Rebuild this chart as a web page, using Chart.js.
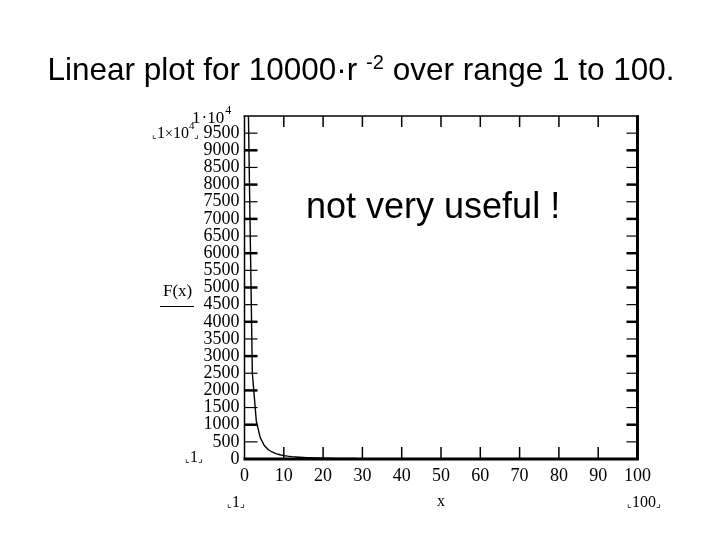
<!DOCTYPE html>
<html>
<head>
<meta charset="utf-8">
<script src="https://cdn.jsdelivr.net/npm/chart.js@4.4.1/dist/chart.umd.min.js"></script>
<style>
  body { margin: 0; background: #fff; }
  #wrap { width: 720px; height: 540px; }
</style>
</head>
<body>
<div id="wrap"><canvas id="plot" width="720" height="540"></canvas></div>
<script>
// x = 1..100, F(x)
const xs = [
  1, 2, 3, 4, 5, 6, 7, 8, 9, 10,
  11, 12, 13, 14, 15, 16, 17, 18, 19, 20,
  21, 22, 23, 24, 25, 26, 27, 28, 29, 30,
  31, 32, 33, 34, 35, 36, 37, 38, 39, 40,
  41, 42, 43, 44, 45, 46, 47, 48, 49, 50,
  51, 52, 53, 54, 55, 56, 57, 58, 59, 60,
  61, 62, 63, 64, 65, 66, 67, 68, 69, 70,
  71, 72, 73, 74, 75, 76, 77, 78, 79, 80,
  81, 82, 83, 84, 85, 86, 87, 88, 89, 90,
  91, 92, 93, 94, 95, 96, 97, 98, 99, 100
];
const ys = [
  10000, 2500, 1111, 625, 400, 278, 204, 156, 123, 100,
  83, 69, 59, 51, 44, 39, 35, 31, 28, 25,
  23, 21, 19, 17, 16, 15, 14, 13, 12, 11,
  10, 10, 9, 9, 8, 8, 7, 7, 7, 6,
  6, 6, 5, 5, 5, 5, 5, 4, 4, 4,
  4, 4, 4, 3, 3, 3, 3, 3, 3, 3,
  3, 3, 3, 2, 2, 2, 2, 2, 2, 2,
  2, 2, 2, 2, 2, 2, 2, 2, 2, 2,
  2, 1, 1, 1, 1, 1, 1, 1, 1, 1,
  1, 1, 1, 1, 1, 1, 1, 1, 1, 1
];
const xRange = [0, 100];
const yRange = [0, 10000];
const xStep = 10;
const yStep = 500;

const serif = '"Liberation Serif", "Times New Roman", serif';
const sans = '"Liberation Sans", Arial, sans-serif';

const points = xs.map((x, i) => ({ x: x, y: ys[i] }));

// box, inward ticks and the Mathcad-style labels
const frame = {
  id: 'frame',
  afterDraw(chart) {
    const { ctx, chartArea: a, scales } = chart;
    const x = scales.x, y = scales.y;
    ctx.save();
    ctx.strokeStyle = '#000';
    ctx.lineCap = 'butt';

    function line(x1, y1, x2, y2, w) {
      ctx.lineWidth = w;
      ctx.beginPath();
      ctx.moveTo(x1, y1);
      ctx.lineTo(x2, y2);
      ctx.stroke();
    }

    y.ticks.forEach(t => {
      if (t.value <= yRange[0] || t.value >= yRange[1]) return;
      const py = y.getPixelForValue(t.value);
      const w = t.value % 1000 === 0 ? 2.5 : 1.2;
      line(a.left, py, a.left + 13, py, w);
      line(a.right, py, a.right - 11, py, w);
    });
    x.ticks.forEach(t => {
      if (t.value <= xRange[0] || t.value >= xRange[1]) return;
      const px = x.getPixelForValue(t.value);
      line(px, a.top, px, a.top + 11, 1.5);
      line(px, a.bottom, px, a.bottom - 12, 1.5);
    });

    line(a.left - 1, a.top, a.right + 1.5, a.top, 1.5);
    line(a.left, a.top, a.left, a.bottom, 1.5);
    line(a.left - 1, a.bottom, a.right + 1.5, a.bottom, 3);
    line(a.right, a.top - 0.5, a.right, a.bottom, 3);

    ctx.fillStyle = '#000';
    ctx.textBaseline = 'alphabetic';
    ctx.textAlign = 'left';

    // title with superscript
    const t1 = 'Linear plot for 10000\u00b7r ';
    const sup = '-2';
    const t2 = ' over range 1 to 100.';
    ctx.font = '31.5px ' + sans;
    const w1 = ctx.measureText(t1).width;
    const w3 = ctx.measureText(t2).width;
    ctx.font = '20px ' + sans;
    const w2 = ctx.measureText(sup).width;
    const tx = 361 - (w1 + w2 + w3) / 2;
    ctx.font = '31.5px ' + sans;
    ctx.fillText(t1, tx, 80);
    ctx.font = '20px ' + sans;
    ctx.fillText(sup, tx + w1, 69);
    ctx.font = '31.5px ' + sans;
    ctx.fillText(t2, tx + w1 + w2, 80);

    ctx.font = '36px ' + sans;
    ctx.fillText('not very useful !', 306, 218);

    // text pieces placed one after another: [text, size, dy, gap]
    function run(parts, x0, base) {
      let cx = x0;
      parts.forEach(p => {
        ctx.font = p[1] + 'px ' + serif;
        ctx.fillText(p[0], cx, base + (p[2] || 0));
        cx += ctx.measureText(p[0]).width + (p[3] || 0);
      });
    }

    // y-axis top value
    run([['1', 17, 0, 1], ['\u00b7', 17], ['10', 17, 0, 1], ['4', 12, -9]], 192, 123);

    // placeholders
    run([['\u231e', 10], ['1', 16], ['\u00d7', 14], ['10', 16], ['4', 11, -9], ['\u231f', 10]], 152, 138);

    ctx.font = '17px ' + serif;
    ctx.fillText('F(x)', 163, 296);
    line(160, 306.5, 194, 306.5, 1);

    run([['\u231e', 10], ['1', 16], ['\u231f', 10]], 185, 462);
    run([['\u231e', 10], ['1', 16], ['\u231f', 10]], 227, 507);
    ctx.font = '16px ' + serif;
    ctx.textAlign = 'center';
    ctx.fillText('x', 441, 506);
    ctx.textAlign = 'left';
    run([['\u231e', 10], ['100', 16], ['\u231f', 10]], 627, 507);

    ctx.restore();
  }
};

new Chart(document.getElementById('plot'), {
  type: 'scatter',
  data: {
    datasets: [{
      data: points,
      showLine: true,
      borderColor: '#000',
      borderWidth: 1.4,
      pointRadius: 0,
      tension: 0
    }]
  },
  options: {
    responsive: false,
    animation: false,
    layout: { padding: { left: 144.5, right: 82.5, top: 116, bottom: 51 } },
    plugins: { legend: { display: false }, tooltip: { enabled: false } },
    scales: {
      x: {
        type: 'linear',
        min: xRange[0],
        max: xRange[1],
        afterFit: s => { s.height = 30; },
        grid: { display: false, drawTicks: false },
        border: { display: false },
        ticks: {
          stepSize: xStep,
          padding: 6,
          maxRotation: 0,
          autoSkip: false,
          color: '#000',
          font: { family: serif, size: 18 }
        }
      },
      y: {
        type: 'linear',
        min: yRange[0],
        max: yRange[1],
        afterFit: s => { s.width = 100; },
        grid: { display: false, drawTicks: false },
        border: { display: false },
        ticks: {
          stepSize: yStep,
          padding: 5,
          autoSkip: false,
          color: '#000',
          font: { family: serif, size: 18 },
          callback: v => (v === yRange[1] ? '' : String(v))
        }
      }
    }
  },
  plugins: [frame]
});
</script>
</body>
</html>
